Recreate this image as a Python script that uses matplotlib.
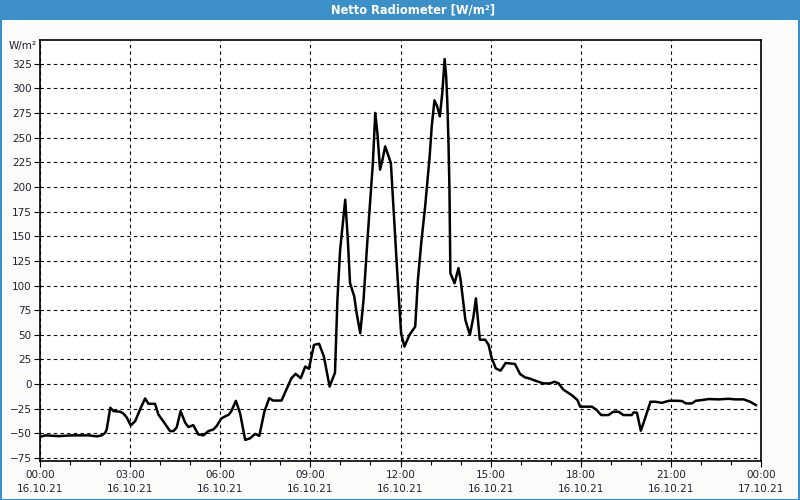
import numpy as np
import matplotlib
matplotlib.use('Agg')
import matplotlib.pyplot as plt
from matplotlib.patches import Rectangle
from matplotlib.ticker import MultipleLocator

# Net radiation, 16.10.21 (hours since midnight, W/m²)
hours = [0.0, 0.18, 0.62, 1.06, 1.62, 1.89, 2.06, 2.17, 2.22, 2.34, 2.45, 2.67, 2.78, 2.89,
         3.02, 3.17, 3.33, 3.5, 3.61, 3.83, 3.94, 4.11, 4.33, 4.44, 4.55, 4.68, 4.83, 4.94,
         5.1, 5.27, 5.44, 5.6, 5.77, 5.88, 6.03, 6.11, 6.28, 6.36, 6.52, 6.66, 6.83, 6.99,
         7.16, 7.3, 7.47, 7.63, 7.76, 8.04, 8.2, 8.37, 8.51, 8.68, 8.83, 8.95, 9.12, 9.29,
         9.45, 9.64, 9.82, 9.9, 9.99, 10.08, 10.16, 10.24, 10.32, 10.46, 10.54, 10.66, 10.77,
         10.9, 11.0, 11.08, 11.16, 11.23, 11.32, 11.4, 11.49, 11.57, 11.68, 11.77, 11.88,
         11.97, 12.02, 12.13, 12.3, 12.49, 12.58, 12.69, 12.82, 12.97, 13.04, 13.13, 13.22,
         13.31, 13.39, 13.47, 13.52, 13.56, 13.6, 13.63, 13.66, 13.8, 13.93, 14.0, 14.16,
         14.31, 14.43, 14.51, 14.64, 14.82, 14.93, 15.03, 15.17, 15.33, 15.5, 15.81, 15.98,
         16.14, 16.31, 16.53, 16.76, 16.98, 17.12, 17.26, 17.42, 17.7, 17.89, 17.98, 18.12,
         18.37, 18.51, 18.68, 18.92, 19.09, 19.26, 19.42, 19.7, 19.76, 19.87, 20.0, 20.14,
         20.32, 20.48, 20.7, 20.94, 21.2, 21.37, 21.5, 21.7, 21.83, 22.03, 22.26, 22.59,
         22.92, 23.14, 23.42, 23.64, 23.83]
net_radiation = [-53.5, -52, -52.8, -52, -52, -53, -52, -49.4, -46, -24, -27.4, -28, -30, -34,
                 -42, -37.5, -25.7, -14.5, -20, -20, -30.8, -38, -47.7, -47.7, -44, -27.4, -39,
                 -43.6, -41.6, -51, -52, -47.7, -46, -42.6, -35, -33.6, -31, -28, -17, -29.5,
                 -56.6, -55, -50.5, -52.5, -27.8, -14.3, -16.7, -16.7, -5.8, 6, 10.4, 6, 17.8,
                 15.5, 39.8, 40.9, 28, -2.5, 11.7, 85.5, 136, 163, 187, 150, 102.4, 89, 72,
                 51.6, 85.5, 146.4, 190, 224, 275, 254.7, 217.5, 227.6, 241, 234, 224, 177,
                 119.3, 75, 51.6, 38, 50, 58.3, 106, 143, 180, 231, 261.4, 287.8, 281.7, 271.5,
                 295, 329.7, 312, 285, 241, 197, 112.5, 102.3, 117.6, 106, 65, 50, 68.5, 87,
                 45, 45, 40, 27, 16, 13.6, 21.4, 20.4, 10.2, 6.9, 5.5, 3, 0.7, 0.7, 2.4, 0.8,
                 -5.6, -11.2, -16.2, -22.9, -22.9, -22.9, -25.7, -31.4, -31.4, -28, -28, -31.4,
                 -31.4, -28.7, -29, -47.3, -34.8, -17.9, -17.9, -19, -16.9, -16.9, -17.2, -19.6,
                 -19.6, -16.9, -16.2, -15.2, -15.5, -14.9, -15.5, -15.5, -17.9, -21.3]

tick_hours = [0, 3, 6, 9, 12, 15, 18, 21, 24]
tick_labels = ['00:00\n16.10.21', '03:00\n16.10.21', '06:00\n16.10.21', '09:00\n16.10.21',
               '12:00\n16.10.21', '15:00\n16.10.21', '18:00\n16.10.21', '21:00\n16.10.21',
               '00:00\n17.10.21']
y_ticks = list(range(-75, 326, 25))

blue = '#3d8fc7'
text_col = '#202030'

fig = plt.figure(figsize=(8, 5), dpi=100, facecolor='#fafcfa')

# window style title bar and border
fig.patches.append(Rectangle((0, 0.96), 1, 0.04, transform=fig.transFigure,
                             facecolor=blue, edgecolor='none', zorder=0))
fig.patches.append(Rectangle((0.001, 0.001), 0.998, 0.998, transform=fig.transFigure,
                             facecolor='none', edgecolor=blue, lw=1.5, zorder=0))
fig.text(413 / 800, 0.981, 'Netto Radiometer [W/m²]', color='white', fontsize=8.3,
         fontweight='bold', ha='center', va='center')
fig.text(37 / 800, 1 - 46 / 500, 'W/m²', color=text_col, fontsize=7.5, ha='right', va='center')

ax = fig.add_axes([40 / 800, 1 - 461 / 500, 721 / 800, 421 / 500])
ax.set_facecolor('white')
ax.plot(hours, net_radiation, color='black', lw=1.8, zorder=3)

ax.set_xlim(0, 24)
ax.set_ylim(-78, 349)
ax.set_xticks(tick_hours)
ax.set_xticklabels(tick_labels, linespacing=1.55)
ax.xaxis.set_minor_locator(MultipleLocator(1))
ax.set_yticks(y_ticks)

ax.grid(True, which='major', color='black', linestyle=(0, (3, 3)), lw=0.8)
for s in ax.spines.values():
    s.set_color('black')
    s.set_linewidth(1.2)

ax.tick_params(axis='x', which='major', length=4, width=0.8, pad=2.5, labelsize=7.5,
               labelcolor=text_col)
ax.tick_params(axis='x', which='minor', length=3, width=0.8)
ax.tick_params(axis='y', which='major', length=4, width=0.8, pad=2, labelsize=7.5,
               labelcolor=text_col)

plt.savefig('out.png', dpi=100, facecolor=fig.get_facecolor())
